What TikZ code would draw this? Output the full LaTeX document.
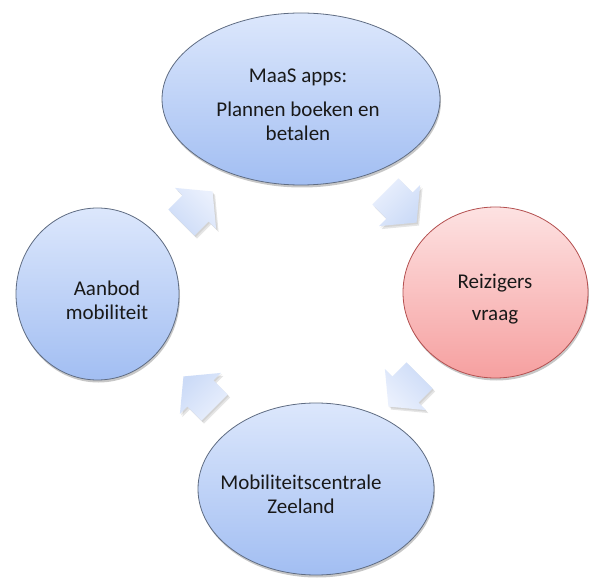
\documentclass[tikz,border=0pt]{standalone}
\usepackage{fontspec}
\setmainfont{Carlito}
\usetikzlibrary{shapes.geometric,shadows}
\definecolor{blueTop}{RGB}{220,231,252}
\definecolor{blueBot}{RGB}{162,190,242}
\definecolor{bordBlue}{RGB}{95,108,130}
\definecolor{redTop}{RGB}{253,226,226}
\definecolor{redBot}{RGB}{246,160,160}
\definecolor{bordRed}{RGB}{180,80,80}
\definecolor{arrTop}{RGB}{234,240,253}
\definecolor{arrBot}{RGB}{204,219,247}
\def\cyclearrowshape{(-22,-18.5) -- (-2,-18.5) -- (-2,-29) -- (22,0) -- (-2,29) -- (-2,18.5) -- (-22,18.5) -- cycle}
\tikzset{
  bubble/.style={ellipse, line width=0.8pt, inner sep=0pt,
    drop shadow={shadow xshift=1pt, shadow yshift=-2.5pt, opacity=0.22, fill=black}},
  bluebubble/.style={bubble, draw=bordBlue, top color=blueTop, bottom color=blueBot},
  redbubble/.style={bubble, draw=bordRed, top color=redTop, bottom color=redBot},
  lbl/.style={font=\fontsize{21}{24}\selectfont, align=center, text=black!90, inner sep=0pt},
  pics/cyclearrow/.style={code={
    \begin{scope}[shift={(2.5,3)},rotate=#1]
      \fill[black,opacity=0.10] \cyclearrowshape;
    \end{scope}
    \begin{scope}[shift={(1.2,1.5)},rotate=#1]
      \fill[black,opacity=0.08] \cyclearrowshape;
    \end{scope}
    \begin{scope}[rotate=#1]
      \shade[top color=arrTop, bottom color=arrBot, shading angle=-#1] \cyclearrowshape;
    \end{scope}
  }}
}
\begin{document}
\begin{tikzpicture}[x=1pt,y=-1pt]
\useasboundingbox[fill=white] (0,0) rectangle (595,580);
% bubbles
\node[bluebubble, minimum width=278pt, minimum height=172pt] (apps) at (301,99) {};
\node[redbubble, minimum width=185pt, minimum height=171pt] (vraag) at (495.5,292.5) {};
\node[bluebubble, minimum width=236pt, minimum height=172pt] (centrale) at (316,489) {};
\node[bluebubble, minimum width=163pt, minimum height=172pt] (aanbod) at (97.5,294) {};
% labels
\node[lbl] (appsA) at (298,77) {MaaS apps:};
\node[lbl] (appsB) at (298,121.5) {Plannen boeken en\\betalen};
\node[lbl] (vraagA) at (495,283) {Reizigers};
\node[lbl] (vraagB) at (495,317) {vraag};
\node[lbl] (aanbodT) at (107,300) {Aanbod\\mobiliteit};
\node[lbl] (centraleT) at (301,494) {Mobiliteitscentrale\\Zeeland};
% cycle arrows
\pic (arrNE) at (197,207) {cyclearrow=45};
\pic (arrSE) at (401,207) {cyclearrow=-45};
\pic (arrSW) at (404,391) {cyclearrow=-135};
\pic (arrNW) at (199,392) {cyclearrow=135};
\end{tikzpicture}
\end{document}
